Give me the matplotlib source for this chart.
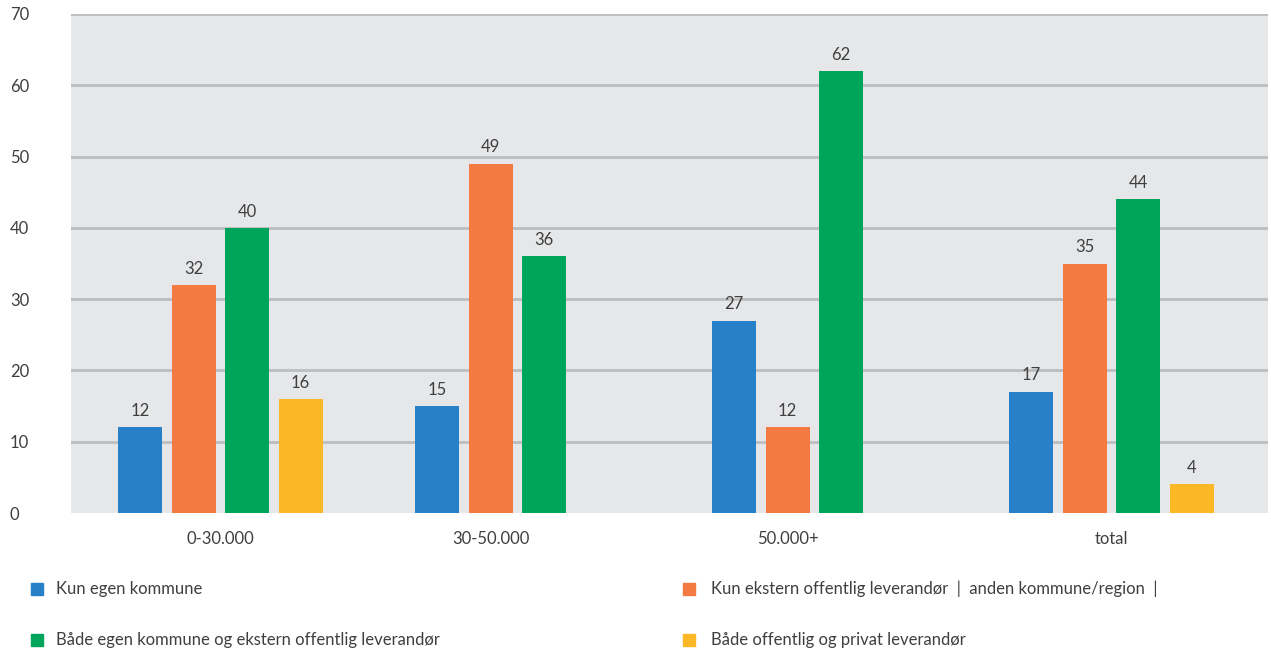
import numpy as np
import matplotlib
matplotlib.use("Agg")
import matplotlib.pyplot as plt
from matplotlib.patches import Rectangle

# ============ data ============
categories = ["0-30.000", "30-50.000", "50.000+", "total"]
kun_egen = [12, 15, 27, 17]
kun_ekstern = [32, 49, 12, 35]
baade_egen_ekstern = [40, 36, 62, 44]
baade_off_privat = [16, None, None, 4]

series_labels = [
    "Kun egen kommune",
    "Kun ekstern offentlig leverandør  |  anden kommune/region  |",
    "Både egen kommune og ekstern offentlig leverandør",
    "Både offentlig og privat leverandør",
]
series_values = [kun_egen, kun_ekstern, baade_egen_ekstern, baade_off_privat]
colors = ["#2881c8", "#f47a44", "#00a55c", "#fbb725"]

y_ticks = [0, 10, 20, 30, 40, 50, 60, 70]

# ============ style ============
plt.rcParams["font.family"] = ["Lato", "DejaVu Sans"]
TEXT_COLOR = "#3f3f3f"
BG_COLOR = "#e6e7e9"
GRID_COLOR = "#bcbdbf"
STEP = 0.18
WIDTH = 0.148
FS = 12

fig = plt.figure(figsize=(12.71, 6.51), dpi=100)
ax = fig.add_axes([71 / 1271, 138 / 651, 1197 / 1271, 499 / 651])
ax.set_facecolor(BG_COLOR)

tick_pos = []
for i in range(len(categories)):
    left = i - 1.5 * STEP
    xs = []
    for k, vals in enumerate(series_values):
        v = vals[i]
        if v is None:
            continue
        x = left + k * STEP
        xs.append(x)
        ax.bar(x, v, width=WIDTH, color=colors[k], zorder=3)
        ax.annotate(str(v), (x, v), xytext=(0, 6), textcoords="offset points",
                    ha="center", va="bottom", fontsize=FS, color=TEXT_COLOR)
    tick_pos.append(np.mean(xs))

ax.set_xlim(-0.503, 3.527)
ax.set_ylim(0, 70)
ax.set_yticks(y_ticks)
ax.set_xticks(tick_pos)
ax.set_xticklabels(categories)
for y in y_ticks[1:]:
    ax.axhline(y, color=GRID_COLOR, linewidth=2, zorder=1)

for s in ax.spines.values():
    s.set_visible(False)
ax.tick_params(axis="both", length=0, labelsize=FS, labelcolor=TEXT_COLOR)
ax.tick_params(axis="y", pad=44)
ax.tick_params(axis="x", pad=13)
for lbl in ax.get_yticklabels():
    lbl.set_horizontalalignment("left")

# legend drawn by hand, two columns
legend_pos = [(31, 589, 56), (683, 589, 711), (31, 640, 56), (683, 640, 711)]
for (px, py, tx), lab, c in zip(legend_pos, series_labels, colors):
    fig.patches.append(Rectangle((px / 1271, (651 - py - 6) / 651), 12 / 1271, 12 / 651,
                                 transform=fig.transFigure, color=c))
    fig.text(tx / 1271, (651 - py) / 651, lab, fontsize=FS,
             color=TEXT_COLOR, va="center", ha="left")

fig.savefig("out.png", dpi=100)
